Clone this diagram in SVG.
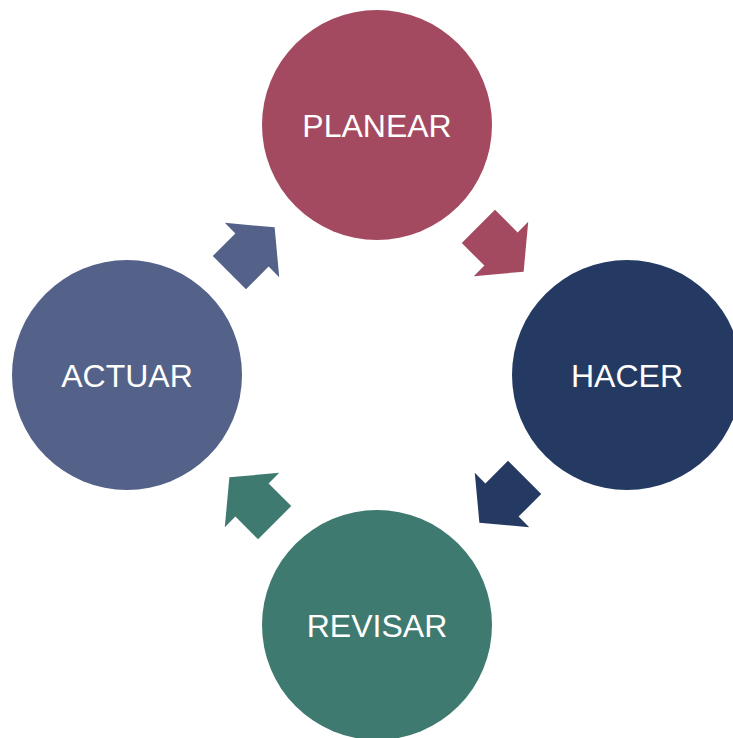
<svg xmlns="http://www.w3.org/2000/svg" width="733" height="738" viewBox="0 0 733 738">
<style>
.lbl{font-family:"Liberation Sans",Arial,sans-serif;font-size:32px;fill:#ffffff;text-anchor:middle}
</style>
<defs>
<path id="arr" d="M -32,-23.5 L 0,-23.5 L 0,-38.5 L 32,0 L 0,38.5 L 0,23.5 L -32,23.5 Z"/>
</defs>
<rect width="733" height="738" fill="#ffffff"/>
<g id="connectors">
<use href="#arr" fill="#A44A60" transform="translate(501,249) rotate(45)"/>
<use href="#arr" fill="#253A62" transform="translate(502,500) rotate(135)"/>
<use href="#arr" fill="#3F7A70" transform="translate(252,500) rotate(-135)"/>
<use href="#arr" fill="#546189" transform="translate(252,250) rotate(-45)"/>
</g>
<g id="planear">
<circle cx="377" cy="125" r="115" fill="#A44A60"/>
<text class="lbl" x="377" y="137">PLANEAR</text>
</g>
<g id="hacer">
<circle cx="627" cy="375" r="115" fill="#253A62"/>
<text class="lbl" x="627" y="387">HACER</text>
</g>
<g id="revisar">
<circle cx="377" cy="625" r="115" fill="#3F7A70"/>
<text class="lbl" x="377" y="637">REVISAR</text>
</g>
<g id="actuar">
<circle cx="127" cy="375" r="115" fill="#546189"/>
<text class="lbl" x="127" y="387">ACTUAR</text>
</g>
</svg>
